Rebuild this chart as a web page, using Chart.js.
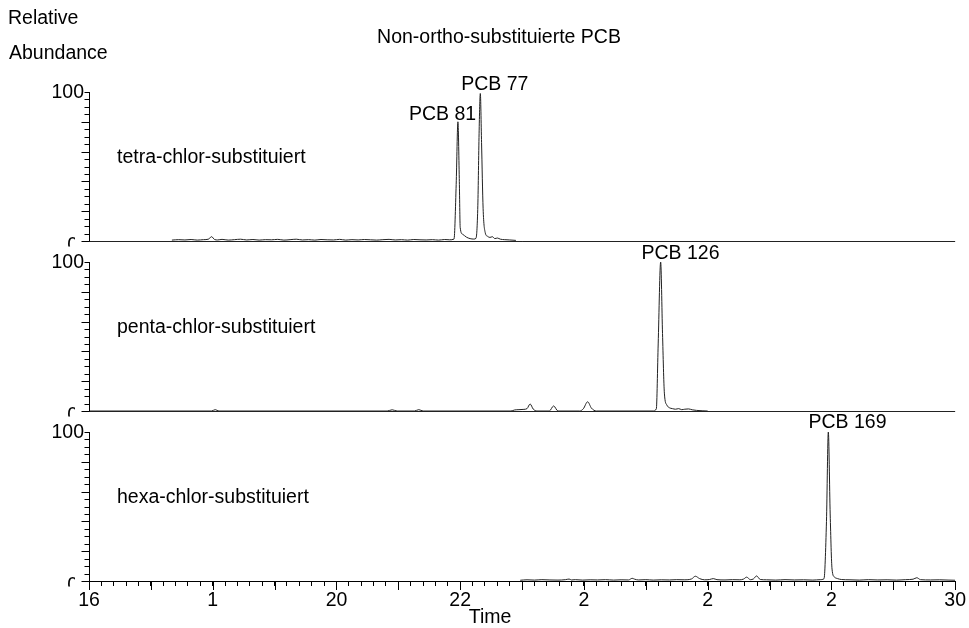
<!DOCTYPE html>
<html>
<head>
<meta charset="utf-8">
<script src="https://cdn.jsdelivr.net/npm/chart.js@4.4.1/dist/chart.umd.min.js"></script>
<style>
  html, body { margin: 0; padding: 0; background: #fff; }
  #wrap { width: 969px; height: 628px; }
</style>
</head>
<body>
<div id="wrap"><canvas id="c" width="969" height="628"></canvas></div>
<script>
// Retention time (min) and relative abundance (%) per trace
const tetraTime = [
  17.34, 17.45, 17.55, 17.65, 17.75, 17.85, 17.93, 17.98, 18.03, 18.08,
  18.15, 18.25, 18.35, 18.45, 18.55, 18.65, 18.75, 18.85, 18.95, 19.05,
  19.15, 19.25, 19.35, 19.45, 19.55, 19.65, 19.75, 19.85, 19.95, 20.05,
  20.15, 20.25, 20.35, 20.45, 20.55, 20.65, 20.75, 20.85, 20.95, 21.05,
  21.15, 21.25, 21.35, 21.45, 21.55, 21.65, 21.75, 21.83, 21.9, 21.935,
  21.963, 21.985, 22.0, 22.04, 22.1, 22.16, 22.22, 22.255, 22.285, 22.305,
  22.325, 22.345, 22.37, 22.405, 22.44, 22.48, 22.52, 22.56, 22.6, 22.65,
  22.72, 22.8, 22.9
];
const tetraAbund = [
  0.6, 0.9, 0.7, 1.0, 0.6, 0.9, 1.2, 2.9, 1.0, 0.7,
  1.1, 0.6, 0.9, 1.2, 0.7, 1.0, 0.6, 0.9, 0.8, 1.1,
  0.6, 0.9, 1.2, 0.7, 0.9, 0.6, 1.0, 0.8, 0.7, 1.1,
  0.6, 0.9, 0.7, 1.0, 0.8, 0.6, 0.9, 1.1, 0.7, 0.9,
  0.6, 1.0, 0.8, 0.7, 0.9, 0.6, 1.0, 0.8, 1.3, 38,
  80, 42, 9, 4.5, 2.6, 1.6, 1.3, 1.8, 24, 72,
  99, 66, 22, 5.5, 3.2, 2.4, 2.9, 1.6, 2.0, 1.2,
  0.9, 0.7, 0.4
];

const pentaTime = [
  16.0, 17.98, 18.04, 18.1, 20.82, 20.9, 20.98, 21.26, 21.33, 21.4,
  22.82, 22.88, 22.95, 23.03, 23.08, 23.13, 23.18, 23.24, 23.44, 23.51,
  23.58, 23.93, 23.99, 24.06, 24.12, 24.2, 25.12, 25.17, 25.2, 25.24,
  25.27, 25.3, 25.34, 25.38, 25.43, 25.48, 25.53, 25.58, 25.63, 25.69,
  25.75, 25.82, 26.0
];
const pentaAbund = [
  0, 0, 0.9, 0, 0, 0.8, 0, 0, 0.9, 0,
  0, 0.7, 0.9, 1.1, 1.6, 4.7, 1.3, 0, 0, 3.4,
  0, 0, 1.5, 6.2, 2.0, 0, 0, 1.5, 45, 100,
  52, 12, 4, 2.2, 1.6, 1.2, 1.6, 0.9, 1.2, 1.4,
  0.8, 0.4, 0
];

const hexaTime = [
  22.97, 23.08, 23.2, 23.32, 23.45, 23.58, 23.7, 23.76, 23.8, 23.86,
  23.98, 24.1, 24.22, 24.35, 24.48, 24.6, 24.72, 24.78, 24.82, 24.88,
  25.0, 25.12, 25.25, 25.38, 25.5, 25.62, 25.74, 25.8, 25.87, 25.95,
  26.03, 26.09, 26.15, 26.28, 26.4, 26.52, 26.58, 26.63, 26.69, 26.74,
  26.79, 26.85, 26.95, 27.1, 27.25, 27.4, 27.55, 27.7, 27.82, 27.88,
  27.92, 27.95, 27.98, 28.01, 28.05, 28.1, 28.16, 28.3, 28.45, 28.6,
  28.75, 28.9, 29.05, 29.2, 29.32, 29.38, 29.44, 29.6, 29.75, 29.9,
  30.0
];
const hexaAbund = [
  0.5, 0.8, 0.6, 0.9, 0.7, 0.6, 0.9, 1.3, 0.7, 0.9,
  0.6, 0.8, 0.7, 0.9, 0.6, 0.8, 0.7, 1.8, 1.2, 0.7,
  0.9, 0.6, 0.8, 0.7, 0.9, 0.8, 1.4, 3.2, 1.6, 0.8,
  1.0, 1.6, 0.9, 0.7, 0.9, 0.8, 1.3, 2.6, 0.9, 1.4,
  3.4, 1.0, 0.8, 0.6, 0.9, 0.7, 0.8, 0.6, 0.9, 1.5,
  40, 100, 45, 8, 2.6, 1.6, 1.0, 0.8, 0.6, 0.9,
  0.7, 0.8, 0.6, 0.9, 1.2, 2.2, 0.9, 0.7, 0.8, 0.6,
  0.5
];

const panelNames = ['tetra-chlor-substituiert', 'penta-chlor-substituiert', 'hexa-chlor-substituiert'];
const peakNames = ['PCB 81', 'PCB 77', 'PCB 126', 'PCB 169'];
const xTickValues = [16, 18, 20, 22, 24, 26, 28, 30];
const xTickLabels = ['16', '1', '20', '22', '2', '2', '2', '30'];
const yTickLabels = ['0', '100'];

const FONT = '"Liberation Sans", Arial, sans-serif';
const panelIds = ['yT', 'yP', 'yH'];

function pts(t, a) { return t.map((v, i) => ({ x: v, y: a[i] })); }

function panelScale() {
  return {
    type: 'linear',
    position: 'left',
    stack: 'panels',
    stackWeight: 1,
    min: 0,
    max: 114.1,
    afterBuildTicks: s => {
      const t = [];
      for (let v = 0; v <= 100; v += 5) t.push({ value: v });
      s.ticks = t;
    },
    afterFit: s => { s.width = 89; },
    ticks: { display: false },
    grid: {
      drawTicks: false,
      color: c => (c.tick && c.tick.value === 0) ? '#222' : 'rgba(0,0,0,0)'
    },
    border: { display: false }
  };
}

// text, axis ticks and labels that Chart.js has no option for
const decor = {
  id: 'decor',
  afterDraw(chart) {
    const { ctx, chartArea: a, scales } = chart;
    const xs = scales.x;
    ctx.save();
    ctx.fillStyle = '#000';
    ctx.strokeStyle = '#000';
    ctx.lineWidth = 1;
    ctx.font = '19.5px ' + FONT;
    ctx.textBaseline = 'middle';

    ctx.textAlign = 'left';
    ctx.fillText('Relative', 8, 19);
    ctx.fillText('Abundance', 9, 54);
    ctx.textAlign = 'center';
    ctx.fillText('Non-ortho-substituierte PCB', 499, 38);
    ctx.fillText('Time', 490, 618);

    const x0 = Math.round(a.left) + 0.5;
    panelIds.forEach((id, k) => {
      const ys = scales[id];
      const p0 = ys.getPixelForValue(0);
      const p100 = ys.getPixelForValue(100);
      ctx.beginPath();
      ctx.moveTo(x0, Math.round(p0));
      ctx.lineTo(x0, Math.round(p100));
      for (let v = 0; v <= 100; v += 5) {
        const y = Math.round(ys.getPixelForValue(v)) + 0.5;
        const len = (v % 20 === 0 && v !== 100) ? 8 : 5;
        ctx.moveTo(x0 - len, y);
        ctx.lineTo(x0, y);
      }
      ctx.stroke();

      ctx.textAlign = 'right';
      ctx.fillText(yTickLabels[1], 84, p100 + 1);
      // the "0" label is cut off by the panel below, as in the original print
      ctx.save();
      ctx.beginPath();
      ctx.rect(0, p0 - 20, 75, 25.5);
      ctx.clip();
      ctx.fillText(yTickLabels[0], 78, p0 + 5);
      ctx.restore();

      ctx.textAlign = 'left';
      ctx.fillText(panelNames[k], 117, ys.getPixelForValue(56));
    });

    // peak labels, anchored in data coordinates
    const anchors = [['yT', 21.715, 84.6], ['yT', 22.56, 104.7], ['yP', 25.56, 105.4], ['yH', 28.26, 106]];
    ctx.textAlign = 'center';
    anchors.forEach((an, i) => {
      ctx.fillText(peakNames[i], xs.getPixelForValue(an[1]), scales[an[0]].getPixelForValue(an[2]));
    });

    // longer ticks at whole minutes
    ctx.beginPath();
    for (let m = 16; m <= 30; m++) {
      const x = Math.round(xs.getPixelForValue(m)) + 0.5;
      ctx.moveTo(x, a.bottom);
      ctx.lineTo(x, a.bottom + 9);
    }
    ctx.stroke();
    ctx.restore();
  }
};

const traceStyle = {
  borderColor: '#222',
  borderWidth: 1,
  pointRadius: 0,
  fill: false,
  cubicInterpolationMode: 'monotone'
};

new Chart(document.getElementById('c'), {
  type: 'line',
  data: {
    datasets: [
      Object.assign({ label: panelNames[0], data: pts(tetraTime, tetraAbund), yAxisID: 'yT' }, traceStyle),
      Object.assign({ label: panelNames[1], data: pts(pentaTime, pentaAbund), yAxisID: 'yP' }, traceStyle),
      Object.assign({ label: panelNames[2], data: pts(hexaTime, hexaAbund), yAxisID: 'yH' }, traceStyle)
    ]
  },
  options: {
    responsive: false,
    animation: false,
    devicePixelRatio: 1,
    layout: { padding: { top: 71, right: 13, left: 0, bottom: 0 } },
    plugins: { legend: { display: false }, tooltip: { enabled: false } },
    scales: {
      x: {
        type: 'linear',
        min: 16,
        max: 30,
        afterBuildTicks: s => {
          const t = [];
          for (let i = 0; i <= 70; i++) t.push({ value: Math.round((16 + i * 0.2) * 10) / 10 });
          s.ticks = t;
        },
        afterFit: s => { s.height = 47; },
        ticks: {
          autoSkip: false,
          maxRotation: 0,
          padding: 3,
          color: '#000',
          font: { family: FONT, size: 19.5 },
          callback: v => {
            const i = xTickValues.findIndex(t => Math.abs(t - v) < 1e-6);
            return i >= 0 ? xTickLabels[i] : '';
          }
        },
        grid: { drawOnChartArea: false, drawTicks: true, tickLength: 5, color: '#000', tickColor: '#000' },
        border: { display: true, color: '#000' }
      },
      // stacked left axes are laid out bottom-up in definition order
      yH: panelScale(),
      yP: panelScale(),
      yT: panelScale()
    }
  },
  plugins: [decor]
});
</script>
</body>
</html>
